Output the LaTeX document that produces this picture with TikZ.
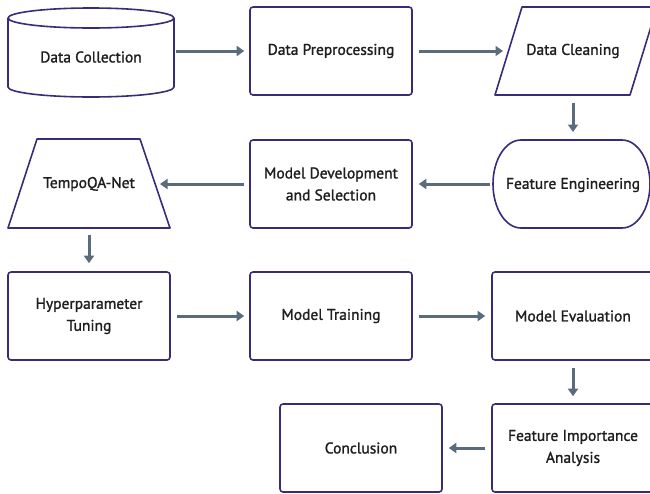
\documentclass[tikz,border=0pt]{standalone}
\usepackage{fontspec}
\setmainfont{PT Sans}[FakeBold=1.4]
\usetikzlibrary{arrows.meta}
\definecolor{bordc}{HTML}{3B2A78}
\definecolor{arrc}{HTML}{5A6C7C}
\definecolor{txtc}{HTML}{1E1E1E}
\begin{document}
\begin{tikzpicture}[x=1pt,y=-1pt,
  shp/.style={draw=bordc,line width=1.6pt,line join=round},
  lbl/.style={text=txtc,font=\fontsize{15.5}{22}\selectfont,align=center,inner sep=0pt},
  box/.style={shp,lbl,rounded corners=3pt,minimum width=162pt,minimum height=88pt},
  arr/.style={draw=arrc,line width=3pt,-{Triangle[length=7.5pt,width=10pt]}}]
\useasboundingbox (0,0) rectangle (650,493);
\clip (0,0) rectangle (650,493);
% cylinder
\draw[shp] (8,18) -- (8,87) arc(180:0:83 and 10) -- (174,18);
\draw[shp] (91,18) ellipse (83 and 10);
\node[lbl] (dc) at (91,57) {Data Collection};
\coordinate (dcE) at (174,51);
% data preprocessing
\node[box] (dp) at (331,51) {Data Preprocessing};
% parallelogram
\draw[shp] (522,7) -- (657,7) -- (630,95) -- (495,95) -- cycle;
\node[lbl] (cl) at (573,51) {Data Cleaning};
\coordinate (clW) at (508,51);
% stadium
\draw[shp] (521,140) -- (622,140) arc(-90:90:28 and 44) -- (521,228) arc(90:270:28 and 44) -- cycle;
\node[lbl] (fe) at (573,185) {Feature Engineering};
% model development
\node[box] (md) at (331,184) {Model Development\\and Selection};
% trapezoid
\draw[shp] (37,139) -- (140,139) -- (170,228) -- (8,228) -- cycle;
\node[lbl] (tq) at (89,184) {TempoQA-Net};
% row 3
\node[box] (hp) at (89,316) {Hyperparameter\\Tuning};
\node[box] (mt) at (331,316) {Model Training};
\node[box] (me) at (573,316) {Model Evaluation};
% row 4
\node[box] (fi) at (573,448) {Feature Importance\\Analysis};
\node[box] (co) at (361,448) {Conclusion};
% arrows
\draw[arr] ([xshift=2pt]dcE) -- ([xshift=-5pt]dp.west);
\draw[arr] ([xshift=6pt]dp.east) -- ([xshift=-5pt]clW);
\draw[arr] (573,103) -- (573,132);
\draw[arr] (490,184) -- ([xshift=6pt]md.east);
\draw[arr] ([xshift=-5pt]md.west) -- (160,184);
\draw[arr] (89,235) -- ([yshift=8pt]hp.north);
\draw[arr] ([xshift=6pt]hp.east) -- ([xshift=-5pt]mt.west);
\draw[arr] ([xshift=6pt]mt.east) -- ([xshift=-6pt]me.west);
\draw[arr] ([yshift=-7pt]me.south) -- ([yshift=7pt]fi.north);
\draw[arr] ([xshift=-6pt]fi.west) -- ([xshift=6pt]co.east);
\end{tikzpicture}
\end{document}
